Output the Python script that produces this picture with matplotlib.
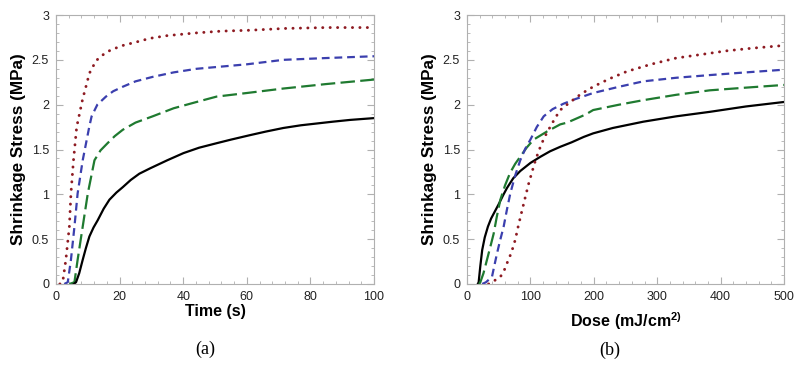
import matplotlib
matplotlib.use("Agg")
import matplotlib.pyplot as plt
from matplotlib.ticker import MultipleLocator, FuncFormatter

plt.rcParams["font.family"] = ["Liberation Sans", "DejaVu Sans"]
plt.rcParams["mathtext.fontset"] = "custom"
plt.rcParams["mathtext.rm"] = "Liberation Sans"
plt.rcParams["mathtext.bf"] = "Liberation Sans:bold"

# ---- Panel (a): stress (MPa) vs time (s) ----
t_red = [1.2, 2.1, 3.1, 4.2, 4.7, 5.5, 6.5, 6.8, 8.6, 8.9, 10.5, 12.6, 14.5, 17.2, 21, 25.4, 29.6, 35,
         44, 52, 61, 72, 85, 100]
s_red = [0, 0.02, 0.27, 0.64, 1.01, 1.38, 1.75, 1.8, 2.1, 2.13, 2.35, 2.49, 2.55, 2.61, 2.66, 2.70, 2.74, 2.77,
         2.80, 2.82, 2.83, 2.85, 2.86, 2.86]

t_blue = [2.6, 3.7, 4.7, 5.8, 6.8, 8.4, 10.5, 11.2, 13, 15.7, 18, 21, 25, 30.4, 37, 44.2, 50.5, 60, 71.5, 85, 100]
s_blue = [0, 0.02, 0.27, 0.64, 1.01, 1.38, 1.76, 1.87, 2.0, 2.09, 2.15, 2.2, 2.26, 2.31, 2.36, 2.40, 2.42, 2.45,
          2.5, 2.52, 2.54]

t_green = [4.2, 5.8, 6.8, 8.4, 10, 12.1, 14, 16.2, 18.5, 21, 25, 30.4, 37, 44.2, 50.5, 60, 71.5, 85, 100]
s_green = [0, 0.02, 0.27, 0.64, 1.01, 1.38, 1.49, 1.57, 1.65, 1.72, 1.80, 1.87, 1.96, 2.03, 2.09, 2.13, 2.18,
           2.23, 2.28]

t_black = [5.6, 6.3, 7.3, 8.4, 9.4, 10.5, 11.8, 13.1, 15, 16.8, 19, 21, 23.5, 26.2, 29.6, 35, 40.1, 45, 50.5,
           55, 61, 66, 71.5, 77, 82, 87, 92.5, 100]
s_black = [0, 0.02, 0.12, 0.27, 0.4, 0.53, 0.63, 0.71, 0.84, 0.94, 1.02, 1.08, 1.16, 1.23, 1.29, 1.38, 1.46,
           1.52, 1.57, 1.61, 1.66, 1.70, 1.74, 1.77, 1.79, 1.81, 1.83, 1.85]

# ---- Panel (b): stress (MPa) vs dose (mJ/cm2) ----
d_black = [17, 18.4, 21, 24, 28, 33, 38, 44, 50, 57, 63, 73, 84, 100, 116, 131, 147, 165, 184, 199, 230, 278,
           330, 383, 440, 500]
b_black = [0, 0.02, 0.2, 0.38, 0.52, 0.64, 0.73, 0.81, 0.89, 0.99, 1.07, 1.18, 1.26, 1.35, 1.42, 1.48, 1.53,
           1.58, 1.64, 1.68, 1.74, 1.81, 1.87, 1.92, 1.98, 2.03]

d_green = [19, 21, 26, 31.5, 37, 42, 47, 52.6, 60, 68, 76, 84, 94, 105, 126, 147, 158, 187, 199, 240, 278, 330,
           383, 440, 500]
b_green = [0, 0.02, 0.12, 0.27, 0.42, 0.56, 0.75, 0.94, 1.1, 1.24, 1.34, 1.42, 1.52, 1.61, 1.70, 1.78, 1.80,
           1.89, 1.94, 2.0, 2.05, 2.11, 2.16, 2.19, 2.22]

d_blue = [24, 30, 39.4, 43, 47.3, 52, 57.8, 63, 68.3, 76, 84, 92, 100, 110, 121, 135, 152, 170, 199, 240, 278,
          330, 383, 440, 500]
b_blue = [0, 0.02, 0.08, 0.2, 0.34, 0.48, 0.64, 0.83, 1.01, 1.21, 1.38, 1.51, 1.61, 1.75, 1.87, 1.95, 2.01,
          2.06, 2.13, 2.2, 2.26, 2.30, 2.33, 2.36, 2.39]

d_red = [34, 39.4, 46, 52.6, 58, 63, 70, 76, 81, 86.8, 92, 97.3, 103, 108, 113, 118, 124, 131, 139, 147, 163,
         180, 199, 225, 252, 290, 330, 370, 409, 450, 500]
b_red = [0, 0.02, 0.05, 0.08, 0.14, 0.23, 0.35, 0.49, 0.65, 0.82, 0.97, 1.12, 1.26, 1.38, 1.48, 1.57, 1.66,
         1.75, 1.85, 1.94, 2.03, 2.12, 2.20, 2.29, 2.37, 2.45, 2.52, 2.56, 2.60, 2.63, 2.66]

y_ticks = [0, 0.5, 1, 1.5, 2, 2.5, 3]

RED = "#8e1b22"
BLUE = "#3b3fae"
GREEN = "#1f7a30"
BLACK = "#000000"
SPINE = "#b0b0b0"

fig = plt.figure(figsize=(8, 3.67), dpi=100)
W, H = 800, 367


def make_ax(left, right, top, bottom):
    return fig.add_axes([left / W, (H - bottom) / H, (right - left) / W, (bottom - top) / H])


ax1 = make_ax(56, 374, 15, 284)
ax2 = make_ax(467, 784, 15, 284)

LW = 1.6
dot = dict(color=RED, linestyle=(0, (0.05, 2.5)), dash_capstyle="round", lw=2.1)
short = dict(color=BLUE, linestyle=(0, (3.5, 2.2)), lw=LW)
long_ = dict(color=GREEN, linestyle=(0, (6.5, 2.4)), lw=LW)
solid = dict(color=BLACK, linestyle="-", lw=LW)

ax1.plot(t_red, s_red, **dot)
ax1.plot(t_blue, s_blue, **short)
ax1.plot(t_green, s_green, **long_)
ax1.plot(t_black, s_black, **solid)

ax2.plot(d_black, b_black, **solid)
ax2.plot(d_green, b_green, **long_)
ax2.plot(d_blue, b_blue, **short)
ax2.plot(d_red, b_red, **dot)

fmt = FuncFormatter(lambda v, p: "%g" % v)

for ax, xmax, xmaj, xmin in ((ax1, 100, 20, 4), (ax2, 500, 100, 20)):
    ax.set_xlim(0, xmax)
    ax.set_ylim(0, 3)
    ax.xaxis.set_major_locator(MultipleLocator(xmaj))
    ax.xaxis.set_minor_locator(MultipleLocator(xmin))
    ax.set_yticks(y_ticks)
    ax.yaxis.set_minor_locator(MultipleLocator(0.1))
    ax.yaxis.set_major_formatter(fmt)
    for s in ax.spines.values():
        s.set_color(SPINE)
        s.set_linewidth(0.8)
    ax.tick_params(which="both", direction="in", top=True, right=True, color=SPINE)
    ax.tick_params(which="major", length=5, width=0.8, labelsize=9, labelcolor="#222222", pad=5)
    ax.tick_params(which="minor", length=2.5, width=0.6)
    ax.set_ylabel("Shrinkage Stress (MPa)", fontsize=12.3, fontweight="bold", labelpad=4)

ax1.set_xlabel("Time (s)", fontsize=11.5, fontweight="bold", labelpad=1)
ax2.set_xlabel(r"$\mathbf{Dose\ (mJ/cm^{2)}}$", fontsize=11.5, labelpad=5)

fig.text(205 / W, 1 - 349 / H, "(a)", ha="center", va="center", fontsize=13, family="Liberation Serif")
fig.text(610 / W, 1 - 350 / H, "(b)", ha="center", va="center", fontsize=13, family="Liberation Serif")

fig.savefig("out.png", dpi=100)
